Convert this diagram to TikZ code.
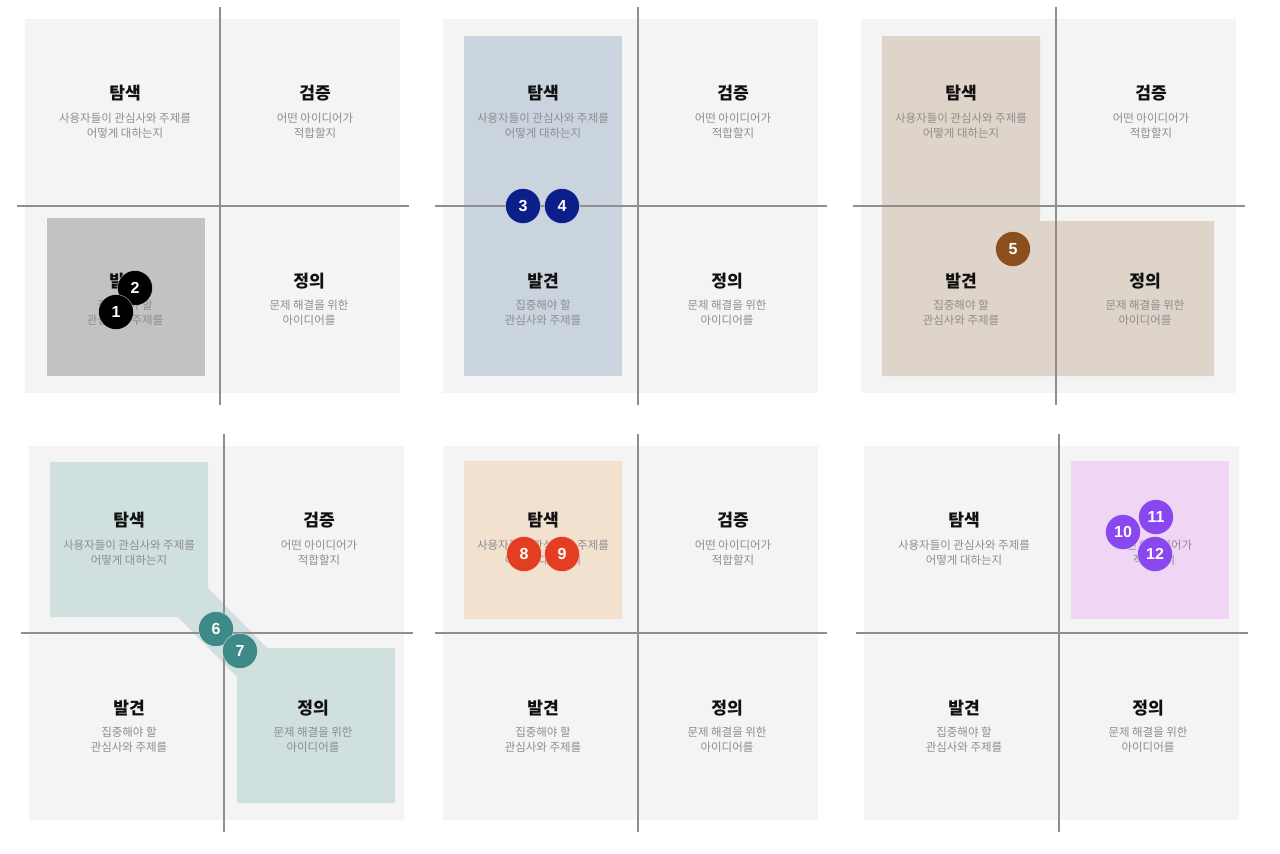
\documentclass[tikz,border=0pt]{standalone}
\usepackage{fontspec}
\newfontfamily\krfont{Noto Sans CJK KR}
\newfontfamily\numfont{Liberation Sans}
\definecolor{bggray}{HTML}{F4F4F4}
\definecolor{axisgray}{HTML}{8E8E8E}
\definecolor{titlecol}{HTML}{111111}
\definecolor{subcol}{HTML}{8D8D8D}
\definecolor{hlA}{HTML}{C2C2C2}
\definecolor{bdA}{HTML}{000000}
\definecolor{hlB}{HTML}{CAD4DF}
\definecolor{bdB}{HTML}{0B1F8A}
\definecolor{hlC}{HTML}{DFD4C9}
\definecolor{bdC}{HTML}{8A4F1C}
\definecolor{hlD}{HTML}{D0E0DF}
\definecolor{bdD}{HTML}{3D8A88}
\definecolor{hlE}{HTML}{F3E1CF}
\definecolor{bdE}{HTML}{E33E22}
\definecolor{hlF}{HTML}{F1D5F4}
\definecolor{bdF}{HTML}{8A47EF}
\tikzset{
  bgq/.style={fill=bggray},
  axisline/.style={draw=axisgray, line width=1.1pt},
  qtitle/.style={font=\krfont\bfseries\fontsize{12.8}{15}\selectfont, text=titlecol, inner sep=0pt},
  qsub/.style={font=\krfont\fontsize{8.6}{11.4}\selectfont, text=subcol, align=center, inner sep=0pt},
  badge/.style={circle, minimum size=26.25pt, inner sep=0pt, text=white,
    font=\numfont\bfseries\fontsize{12}{12}\selectfont, draw=white, draw opacity=0.6, line width=0.4pt},
}
\newcommand\panelbg[2]{\fill[bgq] (#1-195,#2-187) rectangle (#1+180,#2+187);}
\newcommand\panelfg[3]{%
  \draw[axisline] (#1,#2-199) -- (#1,#2+199);
  \draw[axisline] (#1-203,#2) -- (#1+189,#2);
  \node[qtitle] (#3tlt) at (#1-95,#2-113) {탐색};
  \node[qsub] (#3tls) at (#1-95,#2-80.5) {사용자들이 관심사와 주제를\\어떻게 대하는지};
  \node[qtitle] (#3trt) at (#1+95,#2-113) {검증};
  \node[qsub] (#3trs) at (#1+95,#2-80.5) {어떤 아이디어가\\적합할지};
  \node[qtitle] (#3blt) at (#1-95,#2+75) {발견};
  \node[qsub] (#3bls) at (#1-95,#2+107) {집중해야 할\\관심사와 주제를};
  \node[qtitle] (#3brt) at (#1+89,#2+75) {정의};
  \node[qsub] (#3brs) at (#1+89,#2+107) {문제 해결을 위한\\아이디어를};
}
\begin{document}
\begin{tikzpicture}[x=0.75pt,y=-0.75pt]
\useasboundingbox[fill=white] (0,0) rectangle (1280,853);
% backgrounds
\panelbg{220}{206}
\panelbg{638}{206}
\panelbg{1056}{206}
\panelbg{224}{633}
\panelbg{638}{633}
\panelbg{1059}{633}
% highlights
\fill[hlA] (47,218) rectangle (205,376);
\fill[hlB] (464,36) rectangle (622,376);
\fill[hlC] (882,36) -- (1040,36) -- (1040,221) -- (1214,221) -- (1214,376) -- (882,376) -- cycle;
\fill[hlD] (50,462) -- (208,462) -- (208,588) -- (267,648) -- (395,648) -- (395,803) -- (237,803) -- (237,677) -- (178,617) -- (50,617) -- cycle;
\fill[hlE] (464,461) rectangle (622,619);
\fill[hlF] (1071,461) rectangle (1229,619);
% axes and texts
\panelfg{220}{206}{pa}
\panelfg{638}{206}{pb}
\panelfg{1056}{206}{pc}
\panelfg{224}{633}{pd}
\panelfg{638}{633}{pe}
\panelfg{1059}{633}{pf}
% badges
\node[badge, fill=bdA] (c2) at (135,288) {2};
\node[badge, fill=bdA] (c1) at (116,312) {1};
\node[badge, fill=bdB] (c3) at (523,206) {3};
\node[badge, fill=bdB] (c4) at (562,206) {4};
\node[badge, fill=bdC] (c5) at (1013,249) {5};
\node[badge, fill=bdD] (c6) at (216,629) {6};
\node[badge, fill=bdD] (c7) at (240,651) {7};
\node[badge, fill=bdE] (c8) at (524,554) {8};
\node[badge, fill=bdE] (c9) at (562,554) {9};
\node[badge, fill=bdF] (c10) at (1123,532) {10};
\node[badge, fill=bdF] (c11) at (1156,517) {11};
\node[badge, fill=bdF] (c12) at (1155,554) {12};
\end{tikzpicture}
\end{document}
